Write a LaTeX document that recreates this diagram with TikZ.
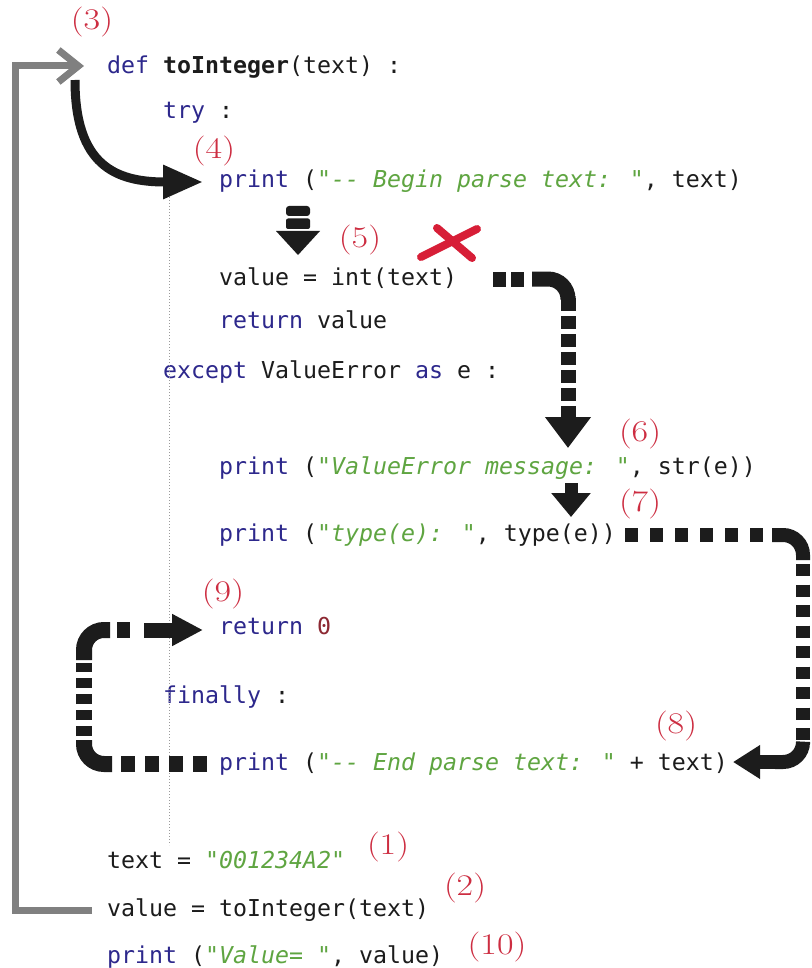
\documentclass[tikz,border=0pt]{standalone}
\usepackage{fontspec}
\newfontfamily\codefont{DejaVu Sans Mono}[Ligatures=TeXOff,WordSpace={1,0,0}]
\usetikzlibrary{arrows.meta}
\definecolor{kw}{RGB}{45,40,140}
\definecolor{strg}{RGB}{95,165,65}
\definecolor{numc}{RGB}{140,40,50}
\definecolor{lblred}{RGB}{205,45,65}
\definecolor{xred}{RGB}{215,30,55}
\definecolor{grayline}{RGB}{128,128,128}
\definecolor{ink}{RGB}{28,28,28}
\newcommand\K[1]{\textcolor{kw}{#1}}
\newcommand\Sg[1]{\textcolor{strg}{\itshape #1}}
\newcommand\lbl[1]{\scalebox{1.2}[1]{(#1)}}
\begin{document}
\begin{tikzpicture}[x=1pt,y=-1pt,
 code/.style={anchor=west,inner sep=0pt,text height=17pt,text depth=5pt,font=\codefont\fontsize{23.25}{28}\selectfont,text=ink},
 lab/.style={inner sep=0pt,text=lblred,font=\fontsize{30}{30}\selectfont},
 dsh/.style={ink,line width=15pt,dash pattern=on 13pt off 5pt},
 dshwide/.style={ink,line width=14pt,dash pattern=on 13pt off 12pt},
 dshmid/.style={ink,line width=14pt,dash pattern=on 12pt off 8.5pt},
 dshleft/.style={ink,line width=16pt,dash pattern=on 14pt off 10pt},
 dshsmall/.style={ink,line width=16pt,dash pattern=on 10pt off 6pt},
 crn/.style={ink,line width=15pt,rounded corners=20pt},
 blk/.style={ink,line width=14pt},
]
\fill[white] (0,0) rectangle (811,968);
\useasboundingbox (0,0) rectangle (811,968);

% code lines
\node[code] (def) at (107,68) {\K{def} \textbf{toInteger}(text) :};
\node[code] (try) at (163,113) {\K{try} :};
\node[code] (pbegin) at (219,182) {\K{print} (\Sg{"-- Begin parse text: "}, text)};
\node[code] (valint) at (219,279) {value = int(text)};
\node[code] (retval) at (219,322) {\K{return} value};
\node[code] (except) at (163,372) {\K{except} ValueError \K{as} e :};
\node[code] (pmsg) at (219,468) {\K{print} (\Sg{"ValueError message: "}, str(e))};
\node[code] (ptype) at (219,535) {\K{print} (\Sg{"type(e): "}, type(e))};
\node[code] (ret0) at (219,628) {\K{return} \textcolor{numc}{0}};
\node[code] (finally) at (163,697) {\K{finally} :};
\node[code] (pend) at (219,764) {\K{print} (\Sg{"-- End parse text: "} + text)};
\node[code] (tasg) at (107,862) {text = \Sg{"001234A2"}};
\node[code] (vcall) at (107,910) {value = toInteger(text)};
\node[code] (pval) at (107,957) {\K{print} (\Sg{"Value= "}, value)};

% step labels
\node[lab] (l3) at (92,22) {\lbl{3}};
\node[lab] (l4) at (214,151) {\lbl{4}};
\node[lab] (l5) at (360,240) {\lbl{5}};
\node[lab] (l6) at (640,434) {\lbl{6}};
\node[lab] (l7) at (640,504) {\lbl{7}};
\node[lab] (l8) at (676,726) {\lbl{8}};
\node[lab] (l9) at (223,594) {\lbl{9}};
\node[lab] (l1) at (388,847) {\lbl{1}};
\node[lab] (l2) at (465,888) {\lbl{2}};
\node[lab] (l10) at (497,947) {\lbl{10}};

% dotted indentation guide
\draw[grayline!80,line width=1pt,dash pattern=on 1pt off 2pt] (169,170) -- (169,845);

% gray call arrow (2) -> (3)
\coordinate (gcorner) at (15,66);
\coordinate (gtip) at (84,66);
\draw[grayline,line width=7pt,-{Straight Barb[length=20pt,width=32pt]}]
  ([xshift=-15pt]vcall.west) -| (gcorner) -- (gtip);

% black curved arrow (3) -> (4)
\coordinate (cstart) at (75,80);
\draw[ink,line width=9pt,-{Triangle[length=40pt,width=32pt]}]
  (cstart) .. controls (75,165) and (115,182) .. ([xshift=-16pt]pbegin.west);

% arrow (4) -> (5)
\fill[ink,rounded corners=3pt] (286,206) rectangle (310,216);
\fill[ink,rounded corners=2pt] (286,218.5) rectangle (310,229);
\fill[ink] (276,231) -- (320,231) -- (298,255) -- cycle;

% red cross
\draw[xred,line width=8pt,line cap=round] (421,257) -- (477,229);
\draw[xred,line width=8pt,line cap=round] (437,228) -- (472,258);

% path (5) -> (6)
\draw[dsh] (493,279) -- (527,279);
\draw[crn] (532,279) -- (568,279) -- (568,296);
\draw[dsh] (568,298) -- (568,401);
\draw[blk,line width=15pt,-{Triangle[length=31pt,width=44pt]}] (568,406) -- (568,448);

% arrow (6) -> (7)
\draw[blk,line width=13pt,-{Triangle[length=24pt,width=38pt]}] (571,483) -- (571,517);

% path (7) -> (8)
\draw[dshwide] (625,535) -- (767,535);
\draw[crn,line width=14pt] (772,535) -- (803,535) -- (803,560);
\draw[dshmid] (803,564) -- (803,740);
\draw[crn,line width=14pt] (803,744) -- (803,762) -- (775,762);
\draw[blk,-{Triangle[length=27pt,width=32pt]}] (778,762) -- (733,762);

% path (8) -> (9)
\draw[dshleft] (207,764) -- (116,764);
\draw[crn,line width=16pt] (112,764) -- (84,764) -- (84,740);
\draw[dshsmall] (84,736) -- (84,663);
\draw[crn,line width=16pt] (84,660) -- (84,630) -- (110,630);
\draw[dsh,line width=16pt] (117,630) -- (131,630);
\draw[blk,line width=15pt,-{Triangle[length=31pt,width=30pt]}] (144,630) -- (203,630);
\end{tikzpicture}
\end{document}
